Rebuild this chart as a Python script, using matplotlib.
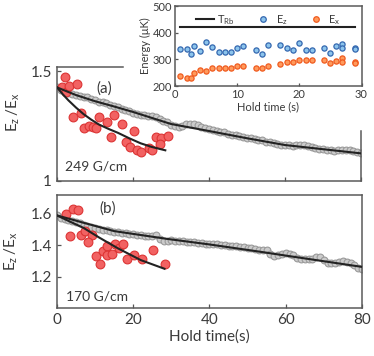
import numpy as np
import matplotlib.pyplot as plt
from matplotlib.lines import Line2D

plt.rcParams['font.family'] = ['Lato', 'DejaVu Sans']
plt.rcParams['text.color'] = '#3a3a3a'
plt.rcParams['axes.labelcolor'] = '#3a3a3a'
plt.rcParams['xtick.color'] = '#555555'
plt.rcParams['ytick.color'] = '#555555'
plt.rcParams['xtick.labelcolor'] = '#3a3a3a'
plt.rcParams['ytick.labelcolor'] = '#3a3a3a'

# panel (a), 249 G/cm
t_gris = np.arange(0, 81)
a_gris = [1.427, 1.415, 1.405, 1.400, 1.395, 1.392, 1.388, 1.385, 1.382, 1.375,
          1.368, 1.360, 1.362, 1.355, 1.345, 1.340, 1.338, 1.330, 1.322, 1.318,
          1.312, 1.305, 1.302, 1.300, 1.298, 1.295, 1.290, 1.285, 1.275, 1.268,
          1.255, 1.250, 1.245, 1.250, 1.258, 1.262, 1.262, 1.255, 1.248, 1.242,
          1.238, 1.232, 1.228, 1.225, 1.222, 1.215, 1.212, 1.208, 1.205, 1.200,
          1.198, 1.195, 1.192, 1.188, 1.185, 1.180, 1.176, 1.172, 1.170, 1.166,
          1.164, 1.162, 1.160, 1.162, 1.164, 1.163, 1.160, 1.155, 1.150, 1.146,
          1.144, 1.142, 1.140, 1.138, 1.140, 1.142, 1.143, 1.141, 1.138, 1.132,
          1.126]
a_rouge_t = [1.2, 2.1, 2.5, 3.1, 5.2, 4.1, 6.2, 7.1, 8.5, 9.4, 10.2, 11.1, 13.2, 15.0,
             17.0, 14.1, 20.2, 18.1, 19.1, 21.1, 22.2, 24.1, 25.1, 26.0, 27.4, 29.2, 27.0]
a_rouge = [1.429, 1.474, 1.406, 1.433, 1.441, 1.292, 1.310, 1.244, 1.250, 1.247, 1.240,
           1.292, 1.270, 1.300, 1.262, 1.199, 1.227, 1.176, 1.156, 1.141, 1.133, 1.151,
           1.141, 1.200, 1.194, 1.205, 1.171]
a_fit_gris_t = [0, 5, 10, 15, 20, 30, 40, 50, 60, 70, 80]
a_fit_gris = [1.427, 1.392, 1.364, 1.340, 1.315, 1.260, 1.228, 1.195, 1.164, 1.145, 1.126]
a_fit_rouge_t = [0, 1.5, 3, 5, 7, 9, 11, 13.5, 16, 19, 22, 25, 28.5]
a_fit_rouge = [1.427, 1.396, 1.368, 1.335, 1.305, 1.280, 1.258, 1.238, 1.220, 1.195,
               1.172, 1.155, 1.140]

# panel (b), 170 G/cm
b_gris = [1.595, 1.575, 1.564, 1.558, 1.553, 1.549, 1.540, 1.532, 1.522, 1.515,
          1.511, 1.505, 1.500, 1.494, 1.489, 1.487, 1.484, 1.480, 1.476, 1.472,
          1.470, 1.468, 1.468, 1.462, 1.457, 1.462, 1.466, 1.440, 1.428, 1.425,
          1.435, 1.430, 1.428, 1.425, 1.422, 1.420, 1.418, 1.415, 1.412, 1.410,
          1.410, 1.408, 1.405, 1.402, 1.400, 1.398, 1.395, 1.392, 1.388, 1.386,
          1.382, 1.380, 1.375, 1.370, 1.368, 1.368, 1.345, 1.330, 1.340, 1.346,
          1.348, 1.346, 1.335, 1.318, 1.315, 1.313, 1.312, 1.315, 1.322, 1.325,
          1.305, 1.286, 1.285, 1.286, 1.290, 1.297, 1.290, 1.286, 1.275, 1.258,
          1.250]
b_rouge_t = [2.4, 4.3, 5.5, 3.4, 6.3, 7.3, 9.1, 8.2, 10.2, 11.3, 12.1, 13.2, 13.2, 14.3,
             15.2, 16.3, 17.2, 18.3, 20.3, 22.4, 25.3, 28.3]
b_rouge = [1.596, 1.633, 1.624, 1.457, 1.468, 1.489, 1.468, 1.419, 1.333, 1.280, 1.365,
           1.393, 1.340, 1.346, 1.409, 1.383, 1.409, 1.312, 1.338, 1.312, 1.372, 1.280]
b_fit_gris_t = [0, 7, 15, 29, 40, 54, 60, 70, 80]
b_fit_gris = [1.590, 1.543, 1.490, 1.440, 1.405, 1.356, 1.334, 1.298, 1.262]
b_fit_rouge_t = [0, 3, 7, 11, 16, 22, 28.2]
b_fit_rouge = [1.590, 1.555, 1.510, 1.450, 1.380, 1.305, 1.250]

# encart : energies
enc_t = [0.8, 1.9, 2.5, 3.0, 4.0, 5.0, 6.0, 7.0, 8.0, 9.0, 9.9, 11.0, 13.0, 14.0, 15.0,
         16.9, 18.0, 19.0, 20.0, 21.0, 22.0, 23.9, 25.0, 25.9, 26.9, 26.9, 28.9, 28.9]
enc_ez = [338, 338, 319, 350, 331, 365, 346, 329, 329, 329, 341, 350, 335, 319, 355,
          353, 343, 334, 363, 335, 335, 344, 325, 350, 359, 344, 344, 338]
enc_ex = [237, 231, 229, 248, 259, 256, 266, 266, 266, 266, 275, 275, 266, 269, 275,
          281, 291, 289, 296, 296, 296, 299, 285, 294, 306, 289, 290, 286]
t_rb_t = [0.8, 29.0]
t_rb = [420, 420]

gris_face, gris_bord = '#cbcbcb', '#9a9a9a'
rouge_face, rouge_bord = '#f26262', '#dc3434'
spine_col = '#5a5a5a'

fig = plt.figure(figsize=(3.74, 3.56), dpi=100)
ax_a = fig.add_axes([0.1524, 0.4916, 0.8128, 0.3202])
ax_b = fig.add_axes([0.1524, 0.1348, 0.8155, 0.3174])
ax_in = fig.add_axes([0.4679, 0.7584, 0.4987, 0.2247])

for ax in (ax_a, ax_b, ax_in):
    for s in ax.spines.values():
        s.set_color(spine_col)
        s.set_linewidth(1.1)
    ax.tick_params(direction='in', length=3, width=0.9)

# panel (a)
ax_a.scatter(t_gris, a_gris, s=24, facecolor=gris_face, edgecolor=gris_bord, linewidth=0.8, zorder=2)
ax_a.scatter(a_rouge_t, a_rouge, s=40, facecolor=rouge_face, edgecolor=rouge_bord, linewidth=0.8, zorder=3)
ax_a.plot(a_fit_gris_t, a_fit_gris, color='#222222', lw=1.5, zorder=4)
ax_a.plot(a_fit_rouge_t, a_fit_rouge, color='#222222', lw=1.5, zorder=4)
ax_a.set_xlim(0, 80)
ax_a.set_ylim(1, 1.52)
ax_a.set_xticks([0, 20, 40, 60, 80])
ax_a.set_xticklabels([])
ax_a.set_yticks([1, 1.5])
ax_a.set_yticklabels(['1', '1.5'], fontsize=11)
ax_a.spines['top'].set_bounds(0, 17.3)
ax_a.spines['right'].set_bounds(1, 1.23)
ax_a.set_ylabel(r'$\mathregular{E_z\,/E_x}$', fontsize=11)
ax_a.yaxis.set_label_coords(-0.115, 0.6)
ax_a.text(0.155, 0.81, '(a)', transform=ax_a.transAxes, fontsize=11, ha='center', va='center')
ax_a.text(0.13, 0.13, '249 G/cm', transform=ax_a.transAxes, fontsize=10, ha='center', va='center')

# panel (b)
ax_b.scatter(t_gris, b_gris, s=24, facecolor=gris_face, edgecolor=gris_bord, linewidth=0.8, zorder=2)
ax_b.scatter(b_rouge_t, b_rouge, s=40, facecolor=rouge_face, edgecolor=rouge_bord, linewidth=0.8, zorder=3)
ax_b.plot(b_fit_gris_t, b_fit_gris, color='#222222', lw=1.5, zorder=4)
ax_b.plot(b_fit_rouge_t, b_fit_rouge, color='#222222', lw=1.5, zorder=4)
ax_b.set_xlim(0, 80)
ax_b.set_ylim(1.0, 1.72)
ax_b.set_xticks([0, 20, 40, 60, 80])
ax_b.set_yticks([1.2, 1.4, 1.6])
ax_b.tick_params(labelsize=11)
ax_b.set_ylabel(r'$\mathregular{E_z\,/E_x}$', fontsize=11)
ax_b.yaxis.set_label_coords(-0.12, 0.5)
ax_b.set_xlabel('Hold time(s)', fontsize=11, labelpad=2)
ax_b.text(0.165, 0.88, '(b)', transform=ax_b.transAxes, fontsize=11, ha='center', va='center')
ax_b.text(0.13, 0.10, '170 G/cm', transform=ax_b.transAxes, fontsize=10, ha='center', va='center')

# encart
ax_in.set_facecolor('white')
ax_in.plot(t_rb_t, t_rb, color='#222222', lw=1.5)
ax_in.scatter(enc_t, enc_ez, s=14, facecolor='#8cc4ec', edgecolor='#3468b0', linewidth=0.9, zorder=3)
ax_in.scatter(enc_t, enc_ex, s=14, facecolor='#ff9a5c', edgecolor='#f05a1e', linewidth=0.9, zorder=3)
ax_in.set_xlim(0, 30)
ax_in.set_ylim(200, 500)
ax_in.set_xticks([0, 10, 20, 30])
ax_in.set_yticks([200, 300, 400, 500])
ax_in.tick_params(labelsize=8, length=2.5, pad=2)
ax_in.set_xlabel('Hold time (s)', fontsize=8, labelpad=1)
ax_in.set_ylabel('Energy (\u03bcK)', fontsize=8, labelpad=1)
poignees = [Line2D([], [], color='#222222', lw=1.5),
            Line2D([], [], ls='', marker='o', ms=4, mfc='#8cc4ec', mec='#3468b0', mew=0.9),
            Line2D([], [], ls='', marker='o', ms=4, mfc='#ff9a5c', mec='#f05a1e', mew=0.9)]
ax_in.legend(poignees, [r'$\mathregular{T_{Rb}}$', r'$\mathregular{E_z}$', r'$\mathregular{E_x}$'],
             ncol=3, frameon=False, loc='upper center', bbox_to_anchor=(0.5, 1.04),
             fontsize=8, handlelength=1.6, handletextpad=0.3, columnspacing=1.8)

fig.savefig('out.png', dpi=100)
